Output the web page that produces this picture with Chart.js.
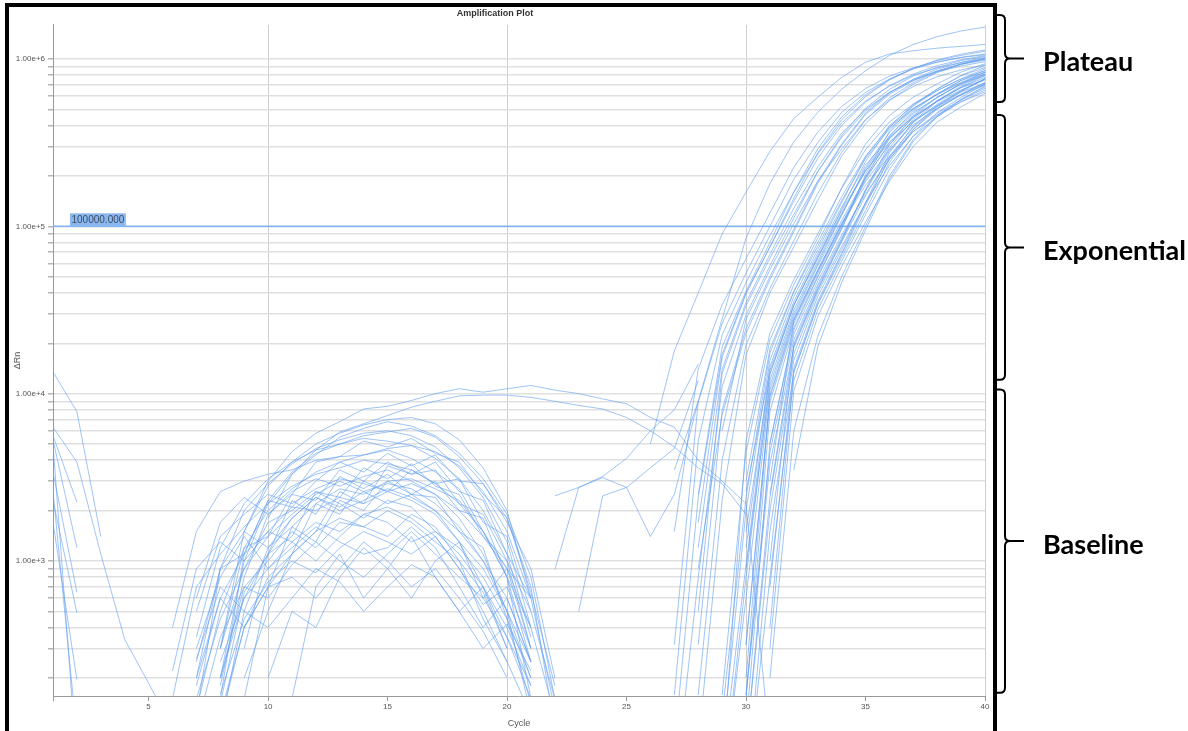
<!DOCTYPE html>
<html>
<head>
<meta charset="utf-8">
<script src="https://cdn.jsdelivr.net/npm/chart.js@4/dist/chart.umd.min.js"></script>
<style>
html,body{margin:0;padding:0;background:#fff;}
#wrap{position:relative;width:1188px;height:731px;}
</style>
</head>
<body>
<div id="wrap"><canvas id="c" width="1188" height="731"></canvas></div>
<script>
// ---------- DATA ----------
const chartTitle = 'Amplification Plot';
const xTitle = 'Cycle';
const yTitle = 'ΔRn';
const xMin = 1, xMax = 40;
const yMin = 156, yMax = 1600000;
const xTickValues = [1, 5, 10, 15, 20, 25, 30, 35, 40];
const xTickLabels = ['', '5', '10', '15', '20', '25', '30', '35', '40'];
const xGridValues = [10, 20, 30, 40];
const yMajorValues = [1000, 10000, 100000, 1000000];
const yMajorLabels = ['1.00e+3', '1.00e+4', '1.00e+5', '1.00e+6'];
const thresholdValue = 100000;
const thresholdLabel = '100000.000';

// phase annotations (ranges in ΔRn units)
const phaseNames = ['Plateau', 'Exponential', 'Baseline'];
const phaseTop = [1830000, 462000, 10600];
const phaseBottom = [553000, 12100, 163];

// early-cycle runs, starting at cycle 1
const earlyStart = 1;
const earlyRuns = [
  [13500, 7800, 1400, null, null, null],
  [6300, 3900, 1100, 340, 186, 100],
  [5600, 2250, null, null, null, null],
  [5300, 1200, null, null, null, null],
  [3400, 650, null, null, null, null],
  [2300, 490, null, null, null, null],
  [1700, 195, null, null, null, null],
  [5000, 60, null, null, null, null],
  [2600, 90, null, null, null, null]
];

// baseline arches, cycles 6..22
const archStart = 6;
const archRuns = [
  [null, 120, 900, 2000, 2900, 3800, 4700, 5300, 5800, 6000, 5600, 4800, 3600, 2400, 1300, 400, null],
  [null, null, 150, 1100, 2300, 3400, 4400, 5000, 5600, 5900, 6200, 5500, 4200, 2900, 1800, 700, 100],
  [400, 1500, 2600, 3000, 3300, 3500, 4000, 4200, 4300, 4600, 4100, 3400, 2700, 1500, 800, 150, null],
  [null, 200, 900, 1100, 2300, 2100, 3000, 3900, 3400, 4400, 3700, 4300, 3000, 2900, 1700, 900, 200],
  [null, 600, 1700, 2400, 1900, 2600, 3100, 2800, 3200, 3500, 3000, 2500, 1800, 1100, 500, 120, null],
  [null, null, 100, 500, 1200, 1600, 2200, 2700, 2500, 3000, 3100, 2700, 2300, 1500, 900, 600, 130],
  [220, 900, 1300, 1000, 1500, 2100, 2000, 2400, 2200, 2600, 2300, 1900, 1300, 700, 300, null, null],
  [null, 150, 450, 900, 1700, 2000, 2600, 2200, 1800, 2300, 2100, 1500, 1200, 800, 450, 200, null],
  [null, 300, 800, 1400, 900, 1300, 1700, 1500, 1900, 2100, 1800, 1400, 900, 550, 700, 300, null],
  [null, null, 200, 700, 1000, 1500, 1200, 1700, 1600, 1400, 1900, 1600, 1000, 450, 250, null, null],
  [null, 180, 600, 1100, 1500, 1300, 1000, 1400, 1900, 1700, 1300, 1500, 1100, 700, 350, 150, null],
  [null, null, 250, 600, 900, 1200, 1600, 1300, 1100, 1200, 1600, 1200, 700, 400, 600, 250, null],
  [null, 100, 350, 700, 600, 950, 1300, 1000, 800, 1100, 1500, 1100, 800, 600, 350, 180, null],
  [null, null, 120, 400, 700, 800, 600, 900, 1300, 1000, 700, 900, 600, 380, 200, null, null],
  [null, 260, 700, 500, 400, 600, 900, 750, 500, 700, 950, 800, 500, 300, 420, 220, null],
  [null, null, null, 200, 500, 1100, 1500, 2600, 2200, 3700, 3300, 3900, 2600, 2300, 1100, 600, null],
  [null, null, 180, 800, 1900, 2500, 3900, 4200, 5200, 4800, 5400, 4400, 3900, 2500, 1800, 650, 180],
  [null, 350, 1200, 2200, 3100, 3900, 4600, 5000, 5400, 5200, 4900, 4100, 3100, 2000, 1100, 350, null],
  [null, null, 300, 1200, 1400, 2500, 2300, 3500, 3000, 3900, 3300, 3500, 2200, 1900, 1000, 500, null],
  [null, null, null, 150, 700, 1100, 2200, 1900, 3000, 2600, 3500, 2900, 3100, 1700, 1400, 500, 150],
  [null, 500, 1400, 1900, 2500, 2200, 2700, 3100, 2900, 2600, 2900, 2500, 2000, 1400, 900, 300, null],
  [null, null, 200, 600, 1100, 1800, 2400, 2100, 2600, 2900, 2700, 2200, 1600, 1000, 500, 200, null],
  [150, 700, 1100, 1600, 2200, 2800, 3300, 3600, 4000, 3800, 3500, 2900, 2200, 1500, 800, 250, null],
  [null, null, 110, 400, 700, 1600, 1300, 2300, 2000, 3000, 2500, 3000, 2000, 1800, 800, 400, 120],
  [null, 250, 900, 1500, 1200, 1800, 2400, 2000, 2300, 2700, 2400, 2000, 1500, 1000, 600, 250, null],
  [null, null, 140, 650, 1100, 2300, 1900, 3200, 2700, 3300, 2500, 2400, 1500, 1200, 450, 140, null],
  [null, 130, 500, 1200, 2000, 2700, 3400, 3900, 4300, 4700, 4900, 4500, 3700, 2600, 1500, 600, null],
  [null, null, null, 300, 1100, 1400, 2600, 2400, 3600, 3100, 3800, 2800, 2500, 1400, 1000, 300, null],
  [null, 200, 600, 400, 800, 1100, 1500, 1800, 1600, 2000, 1700, 1300, 1000, 650, 300, null, null],
  [null, null, 160, 450, 750, 1000, 850, 1200, 1500, 1300, 1100, 1400, 900, 500, 250, 120, null],
  [null, null, 300, 1500, 2800, 3900, 5000, 5800, 6500, 7000, 7200, 6600, 5300, 3600, 2000, 600, null],
  [null, null, 200, 1000, 2200, 3300, 4300, 5500, 6200, 6800, 6400, 5600, 4400, 3100, 1900, 800, 150],
  [null, null, null, null, null, 150, 700, 1100, 600, 900, 1400, 800, 500, 700, 400, 180, null],
  [null, null, null, null, 200, 500, 400, 800, 1200, 900, 600, 1000, 1300, 900, 500, 250, null],
  [null, null, 300, 900, 1400, 1900, 2500, 3000, 2600, 2200, 2500, 2000, 1300, 600, 900, 400, null]
];

// two broad high arches
const broadStarts = [9, 10];
const broadRuns = [
  [1500, 3000, 4500, 5800, 6800, 8100, 8400, 9100, 10000, 10700, 10200, 10700, 11200, 10500, 10000, 9300, 8700, 7200, 6300, 4000, 3000, 2200, 80],
  [1800, 3300, 4600, 5900, 6600, 7400, 8300, 9000, 9700, 9800, 9800, 9500, 9000, 8500, 8100, 7200, 6000, 4800, 3600, 2900, 1900]
];

// late baseline runs, cycles 21..28
const lateBaseStart = 21;
const lateBaseRuns = [
  [null, 2450, 2750, 3150, 2750, 3600, 4700, 12000],
  [null, null, 500, 2450, 2750, 1400, 2500, 9000],
  [null, 890, 2750, 3200, 4100, 6000, 8000, 15000]
];

// amplification curves, cycles 26..40
const ampStart = 26;
const ampRuns = [
  [5000, 18000, 40000, 90000, 160000, 280000, 440000, 590000, 776000, 955000, 1070000, 1120000, 1160000, 1190000, 1220000],
  [null, 3500, 9000, 28000, 85000, 180000, 320000, 480000, 660000, 850000, 1050000, 1220000, 1360000, 1470000, 1550000],
  [null, 1500, 14000, 34000, 64000, 120000, 225000, 365000, 520000, 665000, 790000, 885000, 960000, 1020000, 1060000],
  [null, 316, 8900, 26300, 52500, 100000, 190500, 316000, 479000, 631000, 759000, 871000, 955000, 1023000, 1072000],
  [null, 158, 5200, 22500, 46000, 88000, 160000, 270000, 415000, 560000, 688000, 799000, 886000, 950000, 1006000],
  [null, null, 2500, 19000, 41000, 80000, 160000, 290000, 450000, 610000, 755000, 880000, 978000, 1050000, 1112000],
  [null, 79, 2400, 17200, 40000, 75000, 141000, 255000, 400000, 552000, 692000, 813000, 912000, 989000, 1047000],
  [null, null, 1200, 14000, 35000, 68000, 128000, 226000, 360000, 500000, 632000, 745000, 837000, 908000, 963000],
  [null, null, 1700, 16500, 39500, 75500, 147000, 275000, 433000, 596000, 748000, 878000, 985000, 1068000, 1131000],
  [null, 40, 794, 11000, 29500, 58000, 112000, 212000, 348000, 508000, 658000, 792000, 890000, 977000, 1035000],
  [null, null, 500, 13200, 33500, 64500, 118000, 212000, 340000, 489000, 629000, 754000, 846000, 928000, 983000],
  [null, null, 316, 8000, 24500, 50000, 96000, 185000, 310000, 474000, 628000, 757000, 870000, 955000, 1023000],
  [null, null, 900, 7500, 23000, 48000, 93000, 180000, 305000, 465000, 615000, 742000, 850000, 935000, 995000],
  [null, null, null, 6000, 27800, 55000, 104000, 186000, 289000, 434000, 570000, 684000, 784000, 860000, 921000],
  [null, null, 158, 4000, 19500, 42500, 82000, 157000, 276000, 432000, 585000, 722000, 840000, 933000, 1000000],
  [null, null, 79, 2300, 17000, 40000, 75500, 143000, 262000, 410000, 563000, 706000, 829000, 930000, 1009000],
  [null, null, null, 158, 4470, 20900, 44700, 85100, 170000, 310000, 459000, 591000, 711000, 835000, 936000],
  [null, null, null, null, 3000, 18500, 41000, 80000, 150000, 262000, 392000, 508000, 612000, 720000, 808000],
  [null, null, null, 60, 5200, 23000, 48000, 90000, 168000, 287000, 420000, 538000, 646000, 759000, 851000],
  [null, null, null, 79, 2000, 15800, 38000, 72400, 138000, 259000, 399000, 526000, 648000, 760000, 874000],
  [null, null, null, null, 1200, 14500, 35500, 69000, 130000, 232000, 340000, 450000, 555000, 652000, 749000],
  [null, null, null, 120, 2400, 17500, 40500, 76000, 142000, 254000, 382000, 502000, 617000, 724000, 832000],
  [null, null, null, null, 2600, 13800, 34000, 66500, 124000, 214000, 318000, 423000, 522000, 614000, 707000],
  [null, null, null, 40, 794, 12000, 31600, 61700, 117500, 219000, 347000, 479000, 589000, 708000, 794000],
  [null, null, null, null, 1500, 13000, 33500, 64500, 126000, 244000, 391000, 537000, 660000, 793000, 889000],
  [null, null, null, 40, 600, 10500, 29000, 58000, 108000, 195000, 308000, 428000, 528000, 636000, 715000],
  [null, null, null, null, 900, 11200, 30200, 59500, 116000, 225000, 362000, 502000, 618000, 743000, 834000],
  [null, null, null, 60, 950, 13200, 33800, 64800, 119000, 214000, 333000, 456000, 560000, 673000, 754000],
  [null, null, null, null, 316, 8900, 26300, 52500, 100000, 190500, 316000, 447000, 562000, 676000, 776000],
  [null, null, null, null, null, 5000, 24000, 49500, 96000, 196000, 345000, 490000, 618000, 744000, 854000],
  [null, null, null, null, 200, 9800, 28000, 55000, 104000, 185000, 287000, 404000, 506000, 608000, 698000],
  [null, null, null, null, 150, 7800, 24800, 50500, 97000, 203000, 370000, 526000, 663000, 798000, 916000],
  [null, null, null, null, null, 3000, 27500, 54500, 103000, 176000, 261000, 368000, 461000, 554000, 636000],
  [null, null, null, null, 316, 9500, 27200, 53800, 102000, 197000, 334000, 470000, 590000, 710000, 815000],
  [null, null, null, null, 158, 4470, 20900, 44700, 85100, 162000, 282000, 417000, 537000, 646000, 759000],
  [null, null, null, null, null, 2500, 19200, 42000, 81500, 166000, 306000, 457000, 591000, 711000, 835000],
  [null, null, null, null, 100, 5100, 22600, 47000, 88500, 156000, 251000, 369000, 473000, 568000, 668000],
  [null, null, null, null, null, 1000, 19800, 43200, 83000, 164000, 294000, 437000, 564000, 678000, 797000],
  [null, null, null, null, 158, 3800, 18800, 41500, 80800, 152000, 262000, 392000, 508000, 613000, 721000],
  [null, null, null, null, 79, 2000, 15800, 38000, 72400, 138000, 251000, 380000, 501000, 617000, 724000],
  [null, null, null, null, null, 700, 14200, 35600, 69000, 138000, 275000, 422000, 560000, 691000, 811000],
  [null, null, null, null, 79, 2400, 17300, 40200, 75500, 138000, 230000, 345000, 452000, 555000, 652000],
  [null, null, null, null, null, 400, 13400, 34400, 67500, 133000, 257000, 395000, 525000, 648000, 760000],
  [null, null, null, null, 40, 794, 12000, 31600, 61700, 117500, 219000, 347000, 479000, 589000, 708000],
  [null, null, null, null, null, 300, 10400, 28800, 57500, 106000, 186000, 300000, 420000, 517000, 623000],
  [null, null, null, null, 40, 1500, 13500, 34000, 65000, 124000, 241000, 378000, 518000, 636000, 765000],
  [null, null, null, null, null, 200, 6000, 22000, 50000, 100000, 200000, 330000, 460000, 575000, 680000],
  [null, null, null, null, null, null, 3500, 19000, 46000, 95000, 192000, 322000, 452000, 570000, 690000]
];

// ---------- STYLE ----------
const curveColor = 'rgba(100,160,240,0.62)';
const thresholdColor = 'rgba(120,175,242,0.95)';
const fontFamily = "'Liberation Sans', Arial, sans-serif";

function runPoints(start, values) {
  return values.map((v, i) => ({ x: start + i, y: v }));
}
function curveDataset(start, values) {
  return { data: runPoints(start, values), borderColor: curveColor, borderWidth: 1, pointRadius: 0, tension: 0, fill: false };
}

const datasets = [];
earlyRuns.forEach(r => datasets.push(curveDataset(earlyStart, r)));
archRuns.forEach(r => datasets.push(curveDataset(archStart, r)));
broadRuns.forEach((r, i) => datasets.push(curveDataset(broadStarts[i], r)));
lateBaseRuns.forEach(r => datasets.push(curveDataset(lateBaseStart, r)));
ampRuns.forEach(r => datasets.push(curveDataset(ampStart, r)));
datasets.push({
  data: [{ x: xMin, y: thresholdValue }, { x: xMax, y: thresholdValue }],
  borderColor: thresholdColor, borderWidth: 1.4, pointRadius: 0, fill: false
});

// y tick positions: 1..9 per decade inside the range
const yTickValues = [];
for (let e = 2; e <= 6; e++) {
  for (let m = 1; m <= 9; m++) {
    const v = m * Math.pow(10, e);
    if (v >= yMin && v <= yMax) yTickValues.push(v);
  }
}

function yLabel(v) {
  for (let i = 0; i < yMajorValues.length; i++) {
    if (Math.abs(v - yMajorValues[i]) < yMajorValues[i] * 1e-6) return yMajorLabels[i];
  }
  return '';
}
function xLabel(v) {
  const i = xTickValues.indexOf(v);
  return i >= 0 ? xTickLabels[i] : '';
}

function drawBrace(ctx, x0, top, bottom) {
  const mid = (top + bottom) / 2;
  const xv = x0 + 12, xt = x0 + 31, r = 5;
  ctx.beginPath();
  ctx.moveTo(x0, top);
  ctx.lineTo(xv - r, top);
  ctx.quadraticCurveTo(xv, top, xv, top + r);
  ctx.lineTo(xv, mid - r);
  ctx.quadraticCurveTo(xv, mid, xv + r, mid);
  ctx.lineTo(xt, mid);
  ctx.moveTo(xv + r, mid);
  ctx.quadraticCurveTo(xv, mid, xv, mid + r);
  ctx.lineTo(xv, bottom - r);
  ctx.quadraticCurveTo(xv, bottom, xv - r, bottom);
  ctx.lineTo(x0, bottom);
  ctx.stroke();
}

const decor = {
  id: 'decor',
  afterDatasetsDraw(chart) {
    const ctx = chart.ctx;
    const xs = chart.scales.x, ys = chart.scales.y;
    const yT = ys.getPixelForValue(thresholdValue);
    ctx.save();
    ctx.font = '10px ' + fontFamily;
    const w = ctx.measureText(thresholdLabel).width;
    const bx = xs.getPixelForValue(xMin) + 17;
    ctx.fillStyle = '#8ab7ef';
    ctx.fillRect(bx, yT - 13, w + 3, 13);
    ctx.fillStyle = '#3e4d63';
    ctx.textBaseline = 'middle';
    ctx.textAlign = 'left';
    ctx.fillText(thresholdLabel, bx + 1.5, yT - 6);
    ctx.restore();
  },
  afterDraw(chart) {
    const ctx = chart.ctx;
    const ys = chart.scales.y;
    ctx.save();
    // black frame
    ctx.fillStyle = '#000';
    ctx.fillRect(5, 3, 4, 728);
    ctx.fillRect(5, 3, 992, 4);
    ctx.fillRect(993, 3, 4, 728);
    // braces and phase labels
    ctx.strokeStyle = '#000';
    ctx.lineWidth = 2;
    ctx.font = "bold 27px Lato, 'Open Sans', sans-serif";
    ctx.fillStyle = '#000';
    ctx.textBaseline = 'middle';
    ctx.textAlign = 'left';
    phaseNames.forEach((name, i) => {
      const t = ys.getPixelForValue(phaseTop[i]);
      const b = ys.getPixelForValue(phaseBottom[i]);
      drawBrace(ctx, 993, t, b);
      ctx.fillText(name, 1043, (t + b) / 2 + 4);
    });
    ctx.restore();
  }
};

new Chart(document.getElementById('c'), {
  type: 'line',
  data: { datasets },
  plugins: [decor],
  options: {
    responsive: false,
    animation: false,
    events: [],
    layout: { padding: { left: 5, right: 203, top: 0, bottom: 0 } },
    plugins: {
      legend: { display: false },
      tooltip: { enabled: false },
      title: {
        display: true, text: chartTitle, color: '#333',
        font: { family: fontFamily, size: 9, weight: 'bold' },
        padding: { top: 8, bottom: 6 }
      }
    },
    scales: {
      x: {
        type: 'linear', min: xMin, max: xMax,
        afterBuildTicks: (s) => { s.ticks = xTickValues.map(v => ({ value: v })); },
        afterFit: (s) => { s.height = 35; },
        ticks: { autoSkip: false, maxRotation: 0, padding: 1, color: '#555', font: { family: fontFamily, size: 8 }, callback: (v) => xLabel(v) },
        grid: {
          color: (c) => (c.tick && xGridValues.includes(c.tick.value)) ? '#cfcfcf' : 'rgba(0,0,0,0)',
          tickColor: '#999', tickLength: 5, lineWidth: 1
        },
        border: { color: '#999', width: 1 },
        title: { display: true, text: xTitle, color: '#555', font: { family: fontFamily, size: 9 }, padding: { top: 0, bottom: 2 } }
      },
      y: {
        type: 'logarithmic', min: yMin, max: yMax,
        afterBuildTicks: (s) => { s.ticks = yTickValues.map(v => ({ value: v })); },
        afterFit: (s) => { s.width = 48; },
        ticks: { autoSkip: false, padding: 3, color: '#555', font: { family: fontFamily, size: 8 }, callback: (v) => yLabel(v) },
        grid: { color: '#e0e0e0', lineWidth: 1.5, tickColor: '#b5b5b5', tickLength: 5 },
        border: { color: '#999', width: 1 },
        title: { display: true, text: yTitle, color: '#555', font: { family: fontFamily, size: 9 }, padding: { top: 7, bottom: 0 } }
      }
    }
  }
});
</script>
</body>
</html>
